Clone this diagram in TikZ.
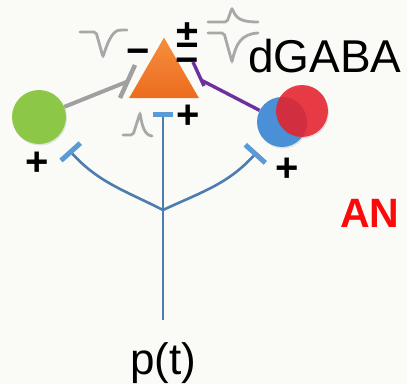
\documentclass[tikz,border=0pt]{standalone}
\usepackage{fontspec}
\setmainfont{Liberation Sans}
\usepackage{xcolor}
\usepackage{tikz}
\usetikzlibrary{
  arrows.meta, positioning, calc, shapes.geometric,
  shadows, backgrounds
}

\definecolor{bgpaper}{RGB}{250,251,246}
\definecolor{cellgreen}{RGB}{141,199,72}
\definecolor{cellblue}{RGB}{74,144,214}
\definecolor{cellred}{RGB}{232,30,42}
\definecolor{pyrtop}{RGB}{246,142,62}
\definecolor{pyrbot}{RGB}{236,108,30}
\definecolor{stemblue}{RGB}{76,124,176}
\definecolor{barblue}{RGB}{90,154,214}
\definecolor{linkgray}{RGB}{160,160,160}
\definecolor{wavegray}{RGB}{168,168,168}
\definecolor{linkpurple}{RGB}{108,48,160}
\definecolor{anred}{RGB}{250,10,10}

\begin{document}
\begin{tikzpicture}[
  x=1pt, y=1pt,
  every node/.style={inner sep=0pt},
  cell/.style={circle, minimum size=#1, drop shadow={opacity=0.2, shadow xshift=1pt, shadow yshift=-1.5pt}},
  pyr/.style={regular polygon, regular polygon sides=3, minimum size=80.8pt,
    top color=pyrtop, bottom color=pyrbot},
  sign/.style={font=\fontsize{40}{40}\selectfont\bfseries},
  big/.style={font=\fontsize{#1}{#1}\selectfont},
  bigbold/.style={font=\fontsize{#1}{#1}\selectfont\bfseries},
  wave/.style={draw=wavegray, line width=2.8pt, line cap=round, rounded corners=2pt},
  graylink/.style={draw=linkgray, line width=4pt},
  purplelink/.style={draw=linkpurple, line width=3.4pt},
  bluelink/.style={draw=stemblue, line width=2.6pt, -{Bar[width=#1, line width=5pt, color=barblue]}},
  bluelink/.default=26pt,
]
  \useasboundingbox (0,0) rectangle (407,384);

  % Cells
  \node[cell=54pt, fill=cellgreen] (green) at (39,267) {};
  \node[pyr] (pyramid) at (164,306) {};
  \node[cell=50pt, fill=cellblue] (dgblue) at (282,262) {};
  \node[cell=52pt, fill=cellred, fill opacity=0.85, drop shadow={opacity=0}] (dgred) at (302,273) {};

  % Labels
  \node[big=46, anchor=base west] (dgaba) at (248,312) {dGABA};
  \node[bigbold=41, text=anred, anchor=base west] (an) at (340,157) {AN};
  \coordinate (stemend) at (163,64);
  \node[big=44, below=22pt of stemend] (pt) {p(t)};

  % Signs
  \foreach \n/\x/\y in {pgreen/37/220, ppyr/188/267, pblue/287/214} {
    \node[sign] (\n) at (\x,\y) {+};
  }
  \node[sign] (mleft) at (138,327) {−};
  \node[font=\fontsize{40}{26}\selectfont\bfseries, align=center, anchor=north] (pm) at (187,362) {±\\−};

  % Gray and purple inputs on the pyramid
  \coordinate (gbar) at (127.5,302.5);
  \coordinate (pbar) at (201,304);
  \begin{scope}[on background layer]
    \fill[bgpaper] (0,0) rectangle (407,384);
    \draw[graylink] (green) -- (gbar);
    \draw[purplelink] (dgblue) -- (pbar);
  \end{scope}
  \draw[graylink, line width=4.5pt] ($(gbar)+(7.5,16.5)$) -- ($(gbar)-(7.5,16.5)$);
  \draw[purplelink] ($(pbar)+(-8,18)$) -- ($(pbar)+(3,-6)$);

  % Traces
  \draw[wave] (80,352) -- (96,352) -- (103,327) .. controls (107,340) and (112,353) .. (121,354) -- (127,354);
  \draw[wave] (123,249) -- (133,249) -- (140,271) .. controls (142,259) and (144,249) .. (152,248);
  \draw[wave] (208,362) -- (227,362) -- (232,376) .. controls (236,366) and (240,362) .. (258,362);
  \draw[wave] (208,351) -- (224,351) -- (232,322) .. controls (236,340) and (241,350) .. (258,351);

  % Blue fork from p(t)
  \coordinate (fork) at (163,174);
  \coordinate (lbar) at (69,234);
  \coordinate (rbar) at (257,232);
  \coordinate (tbar) at (163,272);
  \draw[bluelink] (fork) to[out=153, in=-48] (lbar);
  \draw[bluelink=27pt] (fork) to[out=25, in=-132] (rbar);
  \draw[bluelink=20pt] (fork) -- (tbar);
  \draw[draw=stemblue, line width=2.6pt] (fork) -- (stemend);
\end{tikzpicture}
\end{document}
